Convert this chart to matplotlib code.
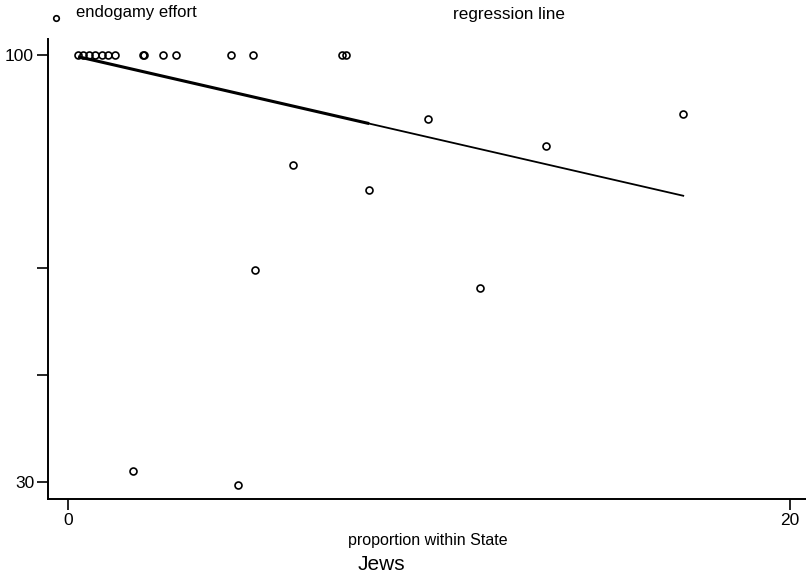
import matplotlib
matplotlib.use("Agg")
import matplotlib.pyplot as plt
from matplotlib.lines import Line2D
import numpy as np

plt.rcParams['font.family'] = ['Liberation Sans Narrow', 'Liberation Sans', 'DejaVu Sans']

# proportion within State (x) vs endogamy effort (y)
prop = [0.28, 0.42, 0.58, 0.75, 0.94, 1.11, 1.30, 2.08, 2.10, 2.63, 2.99,
        4.52, 5.12, 7.59, 7.70,
        17.04, 9.97, 13.24, 6.23, 8.34, 5.18, 11.41, 1.80, 4.71]
effort = [100, 100, 100, 100, 100, 100, 100, 100, 100, 100, 100,
          100, 100, 100, 100,
          90.3, 89.5, 85.1, 82.0, 77.9, 64.8, 61.8, 31.8, 29.5]

# regression line
reg_intercept = 100.08
reg_slope = -1.36
thick_until = 8.34

yticks = [100, 65, 47.5, 30]
yticklabels = ['100', '', '', '30']
xticks = [0, 20]
xticklabels = ['0', '20']

fig = plt.figure(figsize=(8.06, 5.76), dpi=100)
ax = fig.add_axes([48/806, 1-499/576, 1-48/806, (499-39)/576])

ax.plot(prop, effort, 'o', mfc='none', mec='black', ms=5, mew=1.2, clip_on=False)

xs = np.array(sorted(set(prop)))
fit = reg_intercept + reg_slope*xs
m = xs <= thick_until
ax.plot(xs[m], fit[m], color='black', lw=2.2, solid_capstyle='butt')
ax.plot(xs[xs >= thick_until], fit[xs >= thick_until], color='black', lw=1.3)

ax.set_xlim(-0.554, 20.44)
ax.set_ylim(27.2, 102.6)
ax.set_yticks(yticks)
ax.set_yticklabels(yticklabels, fontsize=12.5)
ax.set_xticks(xticks)
ax.set_xticklabels(xticklabels, fontsize=12.5)
ax.tick_params(axis='both', direction='out', length=8, width=1.2, pad=2)
for s in ['top', 'right']:
    ax.spines[s].set_visible(False)
for s in ['left', 'bottom']:
    ax.spines[s].set_linewidth(1.4)

# legend-like header
fig.add_artist(Line2D([56/806], [1-18/576], marker='o', ms=4, mfc='none',
                      mec='black', mew=1.2, transform=fig.transFigure))
fig.text(76/806, 1-13/576, 'endogamy effort', fontsize=12, ha='left', va='center')
fig.text(453/806, 1-15/576, 'regression line', fontsize=12.3, ha='left', va='center')

fig.text(428/806, 1-541/576, 'proportion within State', fontsize=11.5, ha='center', va='center')
fig.text(381/806, 1-565/576, 'Jews', fontsize=15, ha='center', va='center')

plt.savefig('out.png', dpi=100)
